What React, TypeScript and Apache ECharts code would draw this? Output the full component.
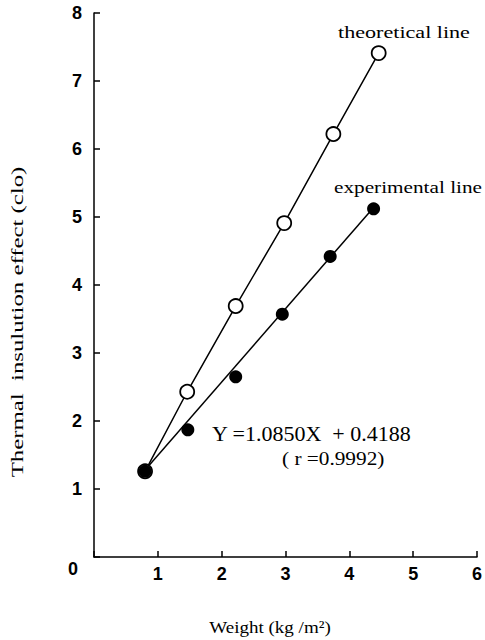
import React, { useEffect, useRef } from "react";
import * as echarts from "echarts";

const theoreticalX = [0.8, 1.46, 2.22, 2.98, 3.75, 4.46];
const theoreticalY = [1.26, 2.43, 3.69, 4.91, 6.22, 7.41];
const experimentalX = [0.8, 1.47, 2.22, 2.95, 3.7, 4.38];
const experimentalY = [1.26, 1.87, 2.65, 3.57, 4.42, 5.12];
const fitLineX = [0.8, 4.38];
const fitLineY = [1.28, 5.14];
const xTicks = [0, 1, 2, 3, 4, 5, 6];
const yTicks = [0, 1, 2, 3, 4, 5, 6, 7, 8];

const serif = "'Liberation Serif', 'DejaVu Serif', serif";
const sans = "'Liberation Sans', Arial, sans-serif";

export default function App() {
  const ref = useRef<HTMLDivElement>(null);
  useEffect(() => {
    if (!ref.current) return;
    const chart = echarts.init(ref.current, null, { renderer: "svg" });
    const pairs = (xs: number[], ys: number[]) => xs.map((x, i) => [x, ys[i]]);
    const label = (text: string, x: number, y: number, size: number, sx: number, align: string, rotation = 0) => ({
      type: "text",
      x,
      y,
      rotation,
      scaleX: sx,
      style: { text, font: `${size}px ${serif}`, fill: "#000", textAlign: align, textVerticalAlign: "middle" },
    });
    chart.setOption({
      animation: false,
      backgroundColor: "#fff",
      grid: { left: 94, top: 13, width: 389, height: 544, containLabel: false },
      xAxis: {
        type: "value",
        min: xTicks[0],
        max: xTicks[xTicks.length - 1],
        interval: 1,
        axisLine: { lineStyle: { color: "#000", width: 1.5 } },
        axisTick: { inside: true, length: 6, lineStyle: { color: "#000", width: 1.5 } },
        axisLabel: {
          color: "#000",
          fontFamily: sans,
          fontWeight: "bold",
          fontSize: 18,
          margin: 8,
          formatter: (v: number) => (v === 0 ? "" : String(v)),
        },
        splitLine: { show: false },
      },
      yAxis: {
        type: "value",
        min: yTicks[0],
        max: yTicks[yTicks.length - 1],
        interval: 1,
        axisLine: { show: true, lineStyle: { color: "#000", width: 1.5 } },
        axisTick: { show: true, inside: true, length: 6, lineStyle: { color: "#000", width: 1.5 } },
        axisLabel: {
          color: "#000",
          fontFamily: sans,
          fontWeight: "bold",
          fontSize: 18,
          margin: 12,
          formatter: (v: number) => (v === 0 ? "" : String(v)),
        },
        splitLine: { show: false },
      },
      series: [
        {
          name: "theoretical line",
          type: "line",
          data: pairs(theoreticalX, theoreticalY),
          symbol: "circle",
          symbolSize: 14,
          lineStyle: { color: "#000", width: 1.5 },
          itemStyle: { color: "#fff", borderColor: "#000", borderWidth: 1.8 },
          z: 3,
        },
        {
          name: "experimental fit",
          type: "line",
          data: pairs(fitLineX, fitLineY),
          symbol: "none",
          lineStyle: { color: "#000", width: 1.5 },
          z: 2,
        },
        {
          name: "experimental line",
          type: "scatter",
          data: pairs(experimentalX, experimentalY),
          symbol: "circle",
          symbolSize: 13,
          itemStyle: { color: "#000", opacity: 1 },
          z: 4,
        },
      ],
      graphic: [
        { type: "text", x: 73, y: 569, style: { text: "0", font: `bold 18px ${sans}`, fill: "#000", textAlign: "center", textVerticalAlign: "middle" } },
        label("theoretical line", 404, 32, 17, 1.3, "center"),
        label("experimental line", 408, 187, 17, 1.25, "center"),
        label("Y =1.0850X  + 0.4188", 212, 434, 20, 1.1, "left"),
        label("( r =0.9992)", 282, 458, 19, 1.12, "left"),
        label("Thermal  insulution effect (clo)", 18, 322, 16, 1.55, "center", Math.PI / 2),
        label("Weight (kg /m²)", 270, 627, 17, 1.12, "center"),
      ],
    });
    return () => chart.dispose();
  }, []);
  return <div ref={ref} style={{ width: 485, height: 640, position: "absolute", left: 0, top: 0 }} />;
}
